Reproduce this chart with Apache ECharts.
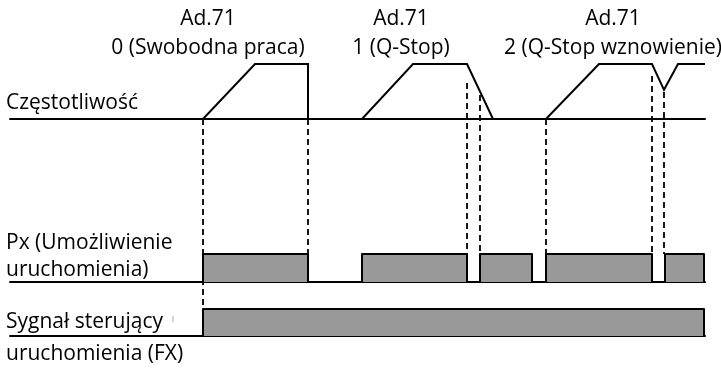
<!DOCTYPE html>
<html>
<head>
<meta charset="utf-8">
<script src="https://cdn.jsdelivr.net/npm/echarts@6/dist/echarts.min.js"></script>
<style>
  html, body { margin: 0; padding: 0; background: #fff; }
  #chart { width: 721px; height: 369px; }
</style>
</head>
<body>
<div id="chart"></div>
<script>
// oś czasu: 10..705 (jednostki umowne)
const tStart = 10
const tEnd = 705

// Częstotliwość: [czas, poziom 0..1]
const freqTimes = [10, 203, 255, 308, 308, 362, 413, 467, 493, 546, 599, 652, 664, 678, 705]
const freqLevels = [0, 0, 1, 1, 0, 0, 1, 1, 0, 0, 1, 1, 0.53, 1, 1]

// Px (Umożliwienie uruchomienia): impulsy [początek, koniec]
const pxPulses = [[203, 308], [362, 467], [480, 532], [546, 652], [665, 704]]

// Sygnał sterujący FX
const fxPulses = [[203, 704]]

// linie pomocnicze: czas, początek i koniec (głębokość od górnego poziomu częstotliwości)
const guideTimes = [203, 308, 467, 480, 546, 652, 664]
const guideFrom = [55, 55, 19, 31, 55, 12, 28]
const guideTo = [245, 190, 190, 190, 190, 190, 190]

// opisy trybów Ad.71
const modeCenters = [208, 401, 613]
const modeTitles = ['Ad.71', 'Ad.71', 'Ad.71']
const modeNames = ['0 (Swobodna praca)', '1 (Q-Stop)', '2 (Q-Stop wznowienie)']

const FONT = '"Open Sans", "Noto Sans", sans-serif'
const FONT_SIZE = 21

function pulsesToPoints (pulses) {
  const pts = [[tStart, 0]]
  pulses.forEach(p => {
    pts.push([p[0], 0], [p[0], 1], [p[1], 1], [p[1], 0])
  })
  pts.push([tEnd, 0])
  return pts
}

const chart = echarts.init(document.getElementById('chart'), null, { renderer: 'canvas' })

const grids = [
  { left: 10, right: 16, top: 64, height: 55 },   // częstotliwość
  { left: 10, right: 16, top: 254, height: 28 },  // Px
  { left: 10, right: 16, top: 309, height: 27 },  // FX
  { left: 10, right: 16, top: 64, height: 245 }   // linie pomocnicze
]

const xAxes = grids.map((g, i) => ({
  type: 'value',
  gridIndex: i,
  min: tStart,
  max: tEnd,
  axisLine: { show: i < 3, onZero: false, lineStyle: { color: '#000', width: 2 } },
  axisTick: { show: false },
  axisLabel: { show: false },
  splitLine: { show: false }
}))

const yAxes = grids.map((g, i) => ({
  type: 'value',
  gridIndex: i,
  min: 0,
  max: i === 3 ? 245 : 1,
  inverse: i === 3,
  show: false
}))

const guideSeries = guideTimes.map((t, i) => ({
  type: 'line',
  xAxisIndex: 3,
  yAxisIndex: 3,
  symbol: 'none',
  silent: true,
  data: [[t, guideFrom[i]], [t, guideTo[i]]],
  lineStyle: { color: '#000', width: 1.8, type: [6, 4] }
}))

const pulseStyle = {
  type: 'line',
  symbol: 'none',
  silent: true,
  lineStyle: { color: '#000', width: 2, join: 'round' },
  areaStyle: { color: '#999999', opacity: 1, origin: 'start' }
}

function label (text, x, y, align) {
  return {
    type: 'text',
    x: x,
    y: y,
    style: { text: text, font: FONT_SIZE + 'px ' + FONT, fill: '#000', textAlign: align, textVerticalAlign: 'middle' }
  }
}

const texts = []
modeCenters.forEach((x, i) => {
  texts.push(label(modeTitles[i], x, 19, 'center'))
  texts.push(label(modeNames[i], x, 48, 'center'))
})
const rowLabels = [
  ['Częstotliwość', 103],
  ['Px (Umożliwienie', 243],
  ['uruchomienia)', 270],
  ['Sygnał sterujący', 322],
  ['uruchomienia (FX)', 354]
]
rowLabels.forEach(r => texts.push(label(r[0], 6, r[1], 'left')))
// drobny znak przy opisie FX
texts.push({ type: 'line', shape: { x1: 173, y1: 316, x2: 173, y2: 322 }, style: { stroke: '#aaa', lineWidth: 1 } })

chart.setOption({
  animation: false,
  backgroundColor: '#fff',
  grid: grids,
  xAxis: xAxes,
  yAxis: yAxes,
  graphic: texts,
  series: [
    {
      type: 'line',
      xAxisIndex: 0,
      yAxisIndex: 0,
      symbol: 'none',
      silent: true,
      data: freqTimes.map((t, i) => [t, freqLevels[i]]),
      lineStyle: { color: '#000', width: 2, join: 'miter' }
    },
    Object.assign({ xAxisIndex: 1, yAxisIndex: 1, data: pulsesToPoints(pxPulses) }, pulseStyle),
    Object.assign({ xAxisIndex: 2, yAxisIndex: 2, data: pulsesToPoints(fxPulses) }, pulseStyle),
    ...guideSeries
  ]
})
</script>
</body>
</html>
